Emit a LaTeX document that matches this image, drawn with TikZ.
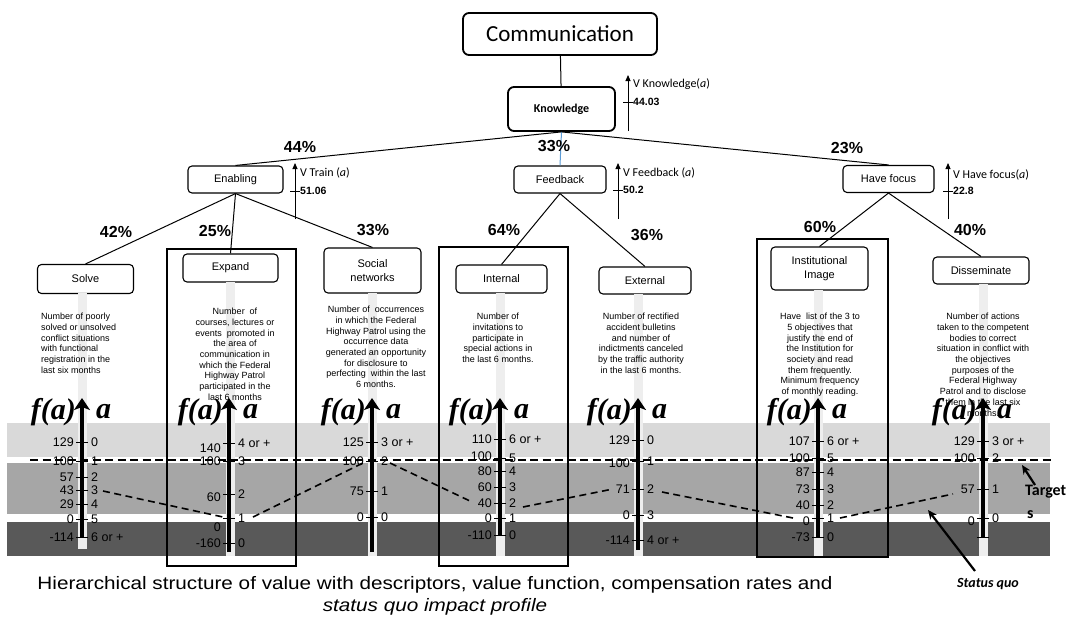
\documentclass[tikz,border=0pt]{standalone}
\usepackage{fontspec}
\setmainfont{Liberation Sans}
\newfontfamily\calib{Carlito}
\newfontfamily\tms{Liberation Serif}
\newfontfamily\captfont[FakeStretch=1.15]{Liberation Sans}
\usetikzlibrary{arrows.meta,calc}
\definecolor{bandlight}{HTML}{D9D9D9}
\definecolor{bandmid}{HTML}{A6A6A6}
\definecolor{banddark}{HTML}{595959}
\definecolor{colbar}{HTML}{EEEEEE}
\definecolor{linkblue}{HTML}{5B9BD5}
\tikzset{
  topbox/.style={draw,fill=white,rounded corners=6pt,line width=1.8pt,inner sep=0pt},
  crit/.style={draw,fill=white,rounded corners=4pt,line width=1.1pt,minimum height=27pt,
    inner sep=1pt,align=center,font=\fontsize{11}{14}\selectfont},
  link/.style={line width=1pt},
  pct/.style={font=\bfseries\fontsize{16}{16}\selectfont},
  varrow/.style={line width=0.9pt,-{Triangle[length=6pt,width=5pt]}},
  vlabel/.style={anchor=west,inner sep=0pt,font=\calib\fontsize{12}{12}\selectfont},
  vvalue/.style={anchor=west,inner sep=0pt,font=\bfseries\fontsize{10.5}{10.5}\selectfont},
  desc/.style={anchor=north,inner sep=0pt,align=center,font=\fontsize{9}{10.7}\selectfont},
  bigbox/.style={draw,line width=2.4pt},
  scalearrow/.style={line width=4pt,-{Stealth[length=12pt,width=16pt,inset=3pt]}},
  fa/.style={inner sep=0pt,font=\tms\bfseries\itshape\fontsize{30}{30}\selectfont},
  ticklab/.style={inner sep=0pt,font=\fontsize{12.5}{12.5}\selectfont},
  tgline/.style={line width=1.8pt,dash pattern=on 8pt off 4.5pt},
  sqline/.style={line width=1.6pt,dash pattern=on 7pt off 4.5pt},
  notearrow/.style={line width=2.2pt,-{Stealth[length=9pt,width=8pt]}},
  capt/.style={inner sep=0pt,font=\captfont\fontsize{18}{18}\selectfont}
}
\begin{document}
\begin{tikzpicture}[x=1pt,y=-1pt]
  \useasboundingbox (0,0) rectangle (1073,624);
  % hierarchy of objectives
  \node[topbox,minimum width=194pt,minimum height=42pt,font=\calib\fontsize{23}{23}\selectfont]
    (comm) at (560,34) {Communication};
  \node[topbox,minimum width=107pt,minimum height=44pt,font=\calib\bfseries\fontsize{12}{12}\selectfont]
    (know) at (561.5,109) {Knowledge};
  \node[crit,minimum width=95pt] (enab) at (235.5,179.5) {Enabling};
  \node[crit,minimum width=92pt] (feed) at (560,179.5) {Feedback};
  \node[crit,minimum width=91pt] (focus) at (888.5,179) {Have focus};
  \node[crit,minimum width=96pt,minimum height=29pt] (solve) at (85.5,279) {Solve};
  \node[crit,minimum width=95pt,minimum height=28pt] (expand) at (230.5,268) {Expand};
  \node[crit,minimum width=97pt,minimum height=45pt] (social) at (372.5,270.5) {Social\\networks};
  \node[crit,minimum width=91pt,minimum height=28pt] (internal) at (501.5,279) {Internal};
  \node[crit,minimum width=92pt] (external) at (645,280.5) {External};
  \node[crit,minimum width=97pt,minimum height=43pt] (image) at (819.5,268.5) {Institutional\\Image};
  \node[crit,minimum width=96pt] (dissem) at (981,270.5) {Disseminate};
  \draw[link] (comm) -- (know);
  \draw[link] (know.south) -- (enab.north);
  \draw[link,linkblue] (know.south) -- (feed.north);
  \draw[link] (know.south) -- (focus.north);
  \foreach \p/\c in {enab/solve,enab/expand,enab/social,feed/internal,feed/external,focus/image,focus/dissem}{%
    \draw[link] (\p.south) -- (\c.north);
  }
  % weights
  \foreach \x/\y/\w [count=\i] in {300/147/44,554/146/33,847/148/23,116/232/42,215/231/25,
    373/230/33,504/230/64,647/235/36,820/227/60,970/230/40}{%
    \node[pct] (w\i) at (\x,\y) {\w\%};
  }
  % value of each criterion
  \foreach \vx/\vt/\vly/\vvy/\vl/\vv [count=\i] in {%
    628/75/84/102/V Knowledge(\textit{a})/44.03,
    295/163/173/191/V Train (\textit{a})/51.06,
    618/163/173/190/V Feedback (\textit{a})/50.2,
    948/163/175/191/V Have focus(\textit{a})/22.8}{%
    \coordinate (vb\i) at (\vx,\vt+56);
    \coordinate (vt\i) at (\vx,\vt);
    \draw[varrow] (vb\i) -- (vt\i);
    \draw[line width=0.8pt] (\vx-5,\vvy) -- (\vx+5,\vvy);
    \node[vlabel] (vl\i) at (\vx+5,\vly) {\vl};
    \node[vvalue] (vv\i) at (\vx+5,\vvy) {\vv};
  }
  % impact levels
  \fill[bandlight] (7,423) rectangle (1050,457);
  \fill[bandmid] (7,463) rectangle (1050,514);
  \fill[banddark] (7,522) rectangle (1050,556);
  \foreach \sx/\st/\sb in {82/293/549,230/282/556,372/293/556,500/293/556,
    638/294/556,818/290/556,983/284/556}{%
    \fill[colbar] (\sx-4.5,\st) rectangle (\sx+4.5,\sb);
  }
  \draw[bigbox] (167,249) rectangle (296,566);
  \draw[bigbox] (439,247) rectangle (568,566);
  \draw[bigbox] (757,239) rectangle (888,557);
  % descriptors
  \node[desc,anchor=north west,align=left] (d1) at (41,313)
    {Number of poorly\\solved or unsolved\\conflict situations\\with functional\\registration in the\\last six months};
  \node[desc] (d2) at (235,308)
    {Number\ \ of\\courses, lectures or\\events\ \ promoted in\\the area of\\communication in\\which the Federal\\Highway Patrol\\participated in the\\last 6 months};
  \node[desc] (d3) at (376,306)
    {Number of\ \ occurrences\\in which the Federal\\Highway Patrol using the\\occurrence data\\generated an opportunity\\for disclosure to\\perfecting\ \ within the last\\6 months.};
  \node[desc] (d4) at (498,313)
    {Number of\\invitations to\\participate in\\special actions in\\the last 6 months.};
  \node[desc] (d5) at (641,313)
    {Number of rectified\\accident bulletins\\and number of\\indictments canceled\\by the traffic authority\\in the last 6 months.};
  \node[desc] (d6) at (820,313)
    {Have\ \ list of the 3 to\\5 objectives that\\justify the end of\\the Institution for\\society and read\\them frequently.\\Minimum frequency\\of monthly reading.};
  \node[desc] (d7) at (983,313)
    {Number of actions\\taken to the competent\\bodies to correct\\situation in conflict with\\the objectives\\purposes of the\\Federal Highway\\Patrol and to disclose\\them in the last six\\months.};
  % targets
  \coordinate (tgl) at (30,460);
  \coordinate (tgr) at (1054,460);
  \draw[tgline] (tgl) -- (tgr);
  % value functions
  \foreach \sx/\sb/\tk [count=\s] in {%
    82/537/{442/129/0/442,461/100/1/461,477/57/2/477,490/43/3/490,504/29/4/504,519/0/5/519,537/-114/6 or +/537},
    229/552/{443/140/4 or +/448,461/100/3/461,494/60/2/497,518/0/1/527,543/-160/0/543},
    372/552/{442/125/3 or +/442,461/100/2/461,491/75/1/491,517/0/0/517},
    500/535/{439/110/6 or +/439,458/100/5/456,471/80/4/471,487/60/3/487,503/40/2/503,518/0/1/518,535/-110/0/535},
    638/550/{440/129/0/440,461/100/1/463,489/71/2/489,515/0/3/515,540/-114/4 or +/540},
    818/537/{441/107/6 or +/441,458/100/5/458,472/87/4/472,489/73/3/489,505/40/2/505,518/0/1/521,537/-73/0/537},
    983/537/{441/129/3 or +/441,458/100/2/458,489/57/1/489,518/0/0/521,537/{}/{}/537}}{%
    \coordinate (sb\s) at (\sx,\sb);
    \coordinate (st\s) at (\sx,398);
    \draw[scalearrow] (sb\s) -- (st\s);
    \node[fa,anchor=east] (fa\s) at (\sx-6,412) {f(a)};
    \node[fa,anchor=west] (a\s) at (\sx+14,412) {a};
    \foreach \ty/\tf/\ta/\tfy in \tk {%
      \draw[line width=0.8pt] (\sx-6,\ty) -- (\sx+6,\ty);
      \node[ticklab,anchor=east] (f\s-\ty) at (\sx-8,\tfy) {\tf};
      \node[ticklab,anchor=west] (l\s-\ty) at (\sx+9,\ty) {\ta};
    }
  }
  % status quo profile
  \foreach \ax/\ay/\bx/\by [count=\i] in {103/491/223/517,253/517/363/463,390/463/470/501,
    523/507/613/489,662/492/793/518,840/518/953/494}{%
    \coordinate (sqa\i) at (\ax,\ay);
    \coordinate (sqb\i) at (\bx,\by);
    \draw[sqline] (sqa\i) -- (sqb\i);
  }
  % notes
  \node[inner sep=0pt,anchor=west,font=\calib\bfseries\fontsize{16}{16}\selectfont] (tg1) at (1025,492) {Target};
  \node[inner sep=0pt,anchor=west,font=\calib\bfseries\fontsize{16}{16}\selectfont] (tg2) at (1027,515) {s};
  \coordinate (tga) at (1035,485);
  \coordinate (tgb) at (1022,465);
  \draw[notearrow] (tga) -- (tgb);
  \node[inner sep=0pt,font=\calib\bfseries\itshape\fontsize{14}{14}\selectfont] (sqn) at (988,584) {Status quo};
  \coordinate (sqs) at (975,571);
  \coordinate (sqt) at (928,510);
  \draw[notearrow] (sqs) -- (sqt);
  % caption
  \node[capt] (cap1) at (435,585) {Hierarchical structure of value with descriptors, value function, compensation rates and};
  \node[capt,font=\captfont\itshape\fontsize{18}{18}\selectfont] (cap2) at (435,607) {status quo impact profile};
\end{tikzpicture}
\end{document}
